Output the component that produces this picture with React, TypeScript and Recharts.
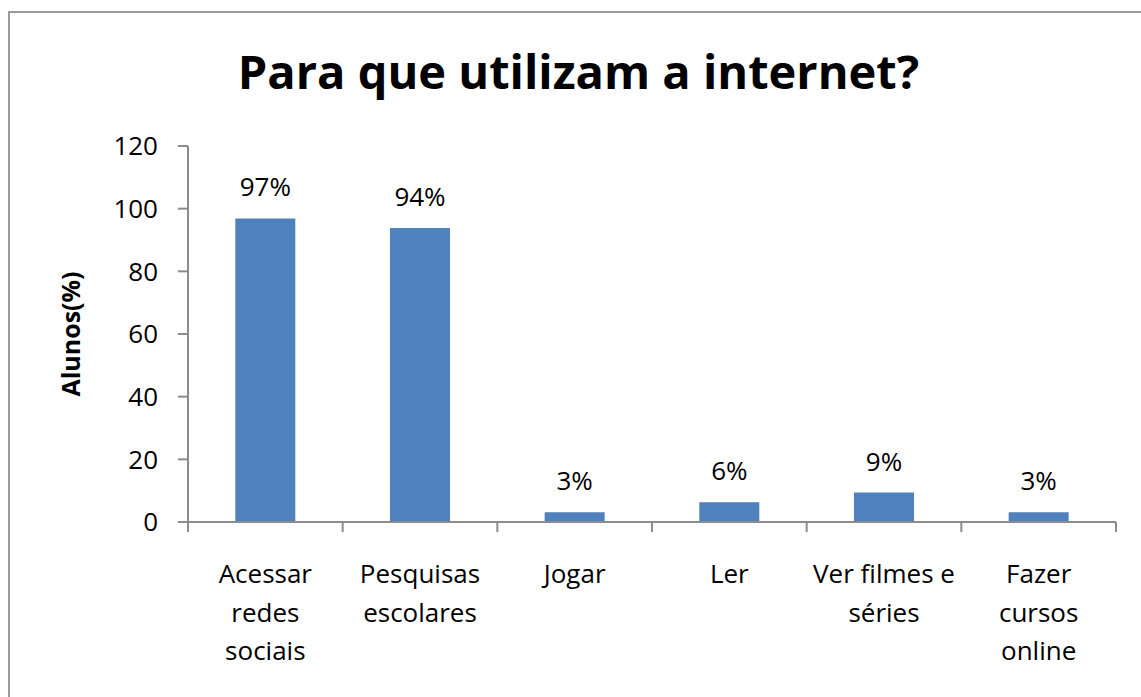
import React from 'react';
import { BarChart, Bar, XAxis, YAxis, LabelList } from 'recharts';

const title = 'Para que utilizam a internet?';
const yAxisTitle = 'Alunos(%)';
const categories = [
  'Acessar redes sociais',
  'Pesquisas escolares',
  'Jogar',
  'Ler',
  'Ver filmes e séries',
  'Fazer cursos online',
];
const categoryLines = [
  ['Acessar', 'redes', 'sociais'],
  ['Pesquisas', 'escolares'],
  ['Jogar'],
  ['Ler'],
  ['Ver filmes e', 'séries'],
  ['Fazer', 'cursos', 'online'],
];
const values = [96.9, 93.8, 3.1, 6.3, 9.4, 3.1];
const valueLabels = ['97%', '94%', '3%', '6%', '9%', '3%'];
const yTicks = [0, 20, 40, 60, 80, 100, 120];

const data = categories.map((c, i) => ({ name: c, value: values[i], label: valueLabels[i] }));

const W = 1141;
const H = 697;
const MARGIN = { top: 146, right: 25, left: 40, bottom: 0 };
const Y_AXIS_W = 148;
const X_AXIS_H = 175;
const PLOT_W = W - MARGIN.left - MARGIN.right - Y_AXIS_W;
const BAND = PLOT_W / categories.length;
const AXIS = '#8c8c8c';
const FONT = '"Open Sans", "Noto Sans", sans-serif';
const BAR = '#4F81BD';

const XTick = (props: any) => {
  const { x, y, index, payload } = props;
  const lines = categoryLines[index] ?? [String(payload?.value ?? '')];
  return (
    <g>
      <line x1={x - BAND / 2} x2={x - BAND / 2} y1={y} y2={y + 10} stroke={AXIS} strokeWidth={2} />
      {index === categories.length - 1 && (
        <line x1={x + BAND / 2} x2={x + BAND / 2} y1={y} y2={y + 10} stroke={AXIS} strokeWidth={2} />
      )}
      <text x={x} y={y + 61} textAnchor="middle" fontSize={26} fill="#000" fontFamily={FONT}>
        {lines.map((l: string, i: number) => (
          <tspan key={i} x={x} dy={i === 0 ? 0 : 38.5}>
            {l}
          </tspan>
        ))}
      </text>
    </g>
  );
};

const YTitle = (props: any) => {
  const vb = props.viewBox || { x: 0, y: 0, width: 0, height: 0 };
  const cx = vb.x + 30;
  const cy = vb.y + vb.height / 2;
  return (
    <text
      x={cx}
      y={cy}
      transform={`rotate(-90 ${cx} ${cy})`}
      textAnchor="middle"
      dominantBaseline="central"
      fontSize={25}
      fontWeight="bold"
      fill="#000"
      fontFamily={FONT}
    >
      {yAxisTitle}
    </text>
  );
};

export default function App() {
  return (
    <div style={{ position: 'absolute', left: 0, top: 0, width: W, height: H, overflow: 'hidden', background: '#fff' }}>
      <div
        style={{
          position: 'absolute',
          left: 8,
          top: 11,
          width: 1300,
          height: 800,
          border: '2px solid #9a9a9a',
          boxSizing: 'border-box',
        }}
      />
      <div
        style={{
          position: 'absolute',
          left: 8,
          top: 48,
          width: W,
          textAlign: 'center',
          fontFamily: FONT,
          fontWeight: 'bold',
          fontSize: 47,
          lineHeight: '47px',
          color: '#000',
          whiteSpace: 'nowrap',
        }}
      >
        {title}
      </div>
      <div style={{ position: 'absolute', left: 0, top: 0 }}>
        <BarChart width={W} height={H} data={data} margin={MARGIN} barCategoryGap="30.6%">
          <XAxis
            dataKey="name"
            height={X_AXIS_H}
            axisLine={{ stroke: AXIS, strokeWidth: 2 }}
            tickLine={false}
            tickSize={0}
            tickMargin={0}
            interval={0}
            tick={<XTick />}
          />
          <YAxis
            width={Y_AXIS_W}
            domain={[0, 120]}
            ticks={yTicks}
            interval={0}
            axisLine={{ stroke: AXIS, strokeWidth: 2 }}
            tickLine={{ stroke: AXIS, strokeWidth: 2 }}
            tickSize={10}
            tickMargin={20}
            tick={{ fontSize: 26, fill: '#000', fontFamily: FONT }}
            label={{ content: <YTitle /> }}
          />
          <Bar dataKey="value" fill={BAR} isAnimationActive={false}>
            <LabelList dataKey="label" position="top" offset={22} fill="#000" fontSize={26} fontFamily={FONT} />
          </Bar>
        </BarChart>
      </div>
    </div>
  );
}
